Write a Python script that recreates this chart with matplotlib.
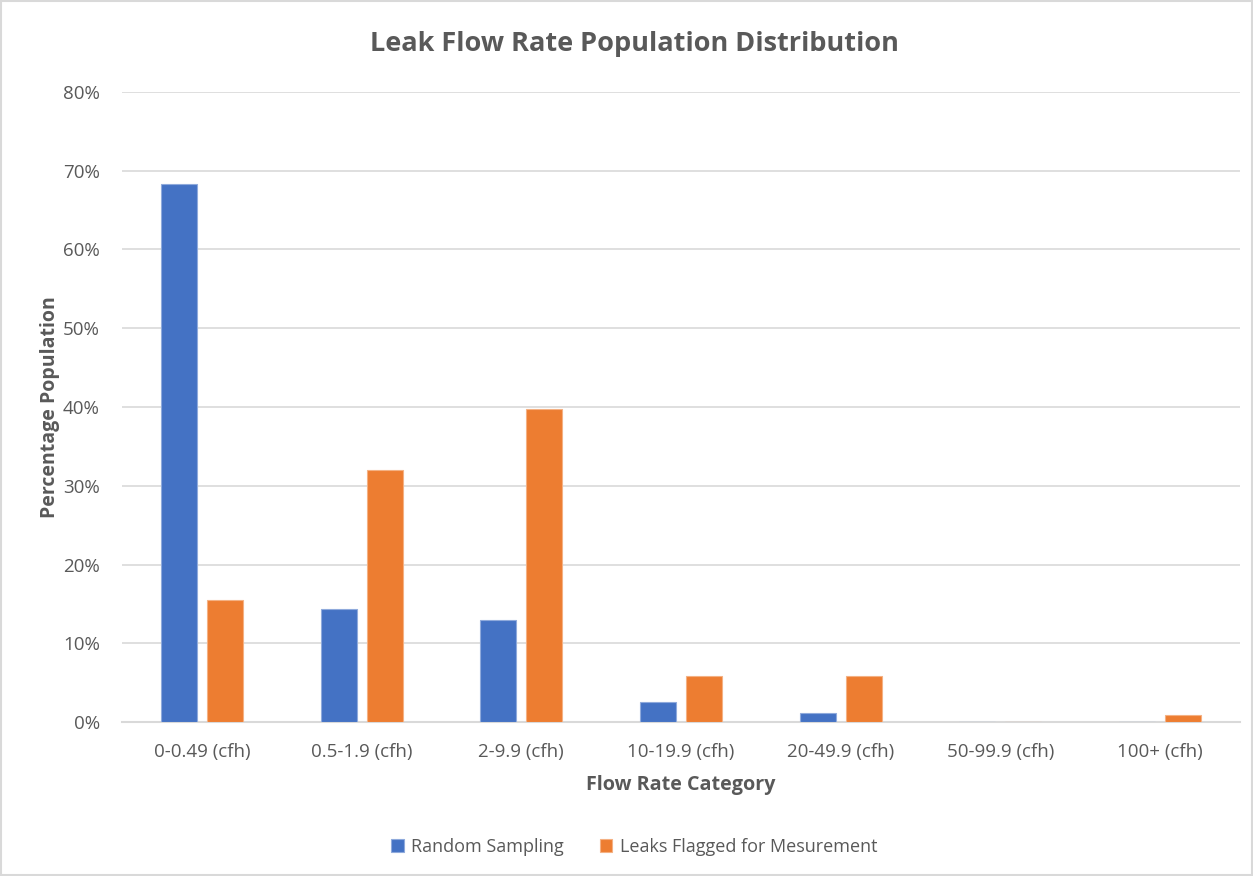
import matplotlib.pyplot as plt
import numpy as np
from matplotlib.patches import Rectangle
from matplotlib.ticker import FuncFormatter

plt.rcParams['font.family'] = ['Open Sans', 'DejaVu Sans']

# categories and values (fractions)
categories = ['0-0.49 (cfh)', '0.5-1.9 (cfh)', '2-9.9 (cfh)', '10-19.9 (cfh)',
              '20-49.9 (cfh)', '50-99.9 (cfh)', '100+ (cfh)']
random_sampling = [0.683, 0.144, 0.130, 0.025, 0.012, 0.0, 0.0]
leaks_flagged = [0.155, 0.320, 0.397, 0.058, 0.058, 0.0, 0.009]

blue = '#4472C4'
orange = '#ED7D31'
grey_text = '#595959'
grid_col = '#d9d9d9'

fig = plt.figure(figsize=(12.53, 8.76), dpi=100)
ax = fig.add_axes([122 / 1253, 1 - 722 / 876, (1240 - 122) / 1253, (722 - 92) / 876])

x = np.arange(len(categories))
w = 0.225
off = 0.144
ax.bar(x - off, random_sampling, w, color=blue, edgecolor='#8faadc', linewidth=0.8,
       label='Random Sampling', zorder=3)
ax.bar(x + off, leaks_flagged, w, color=orange, edgecolor='#f4b183', linewidth=0.8,
       label='Leaks Flagged for Mesurement', zorder=3)

ax.set_xlim(-0.5, len(categories) - 0.5)
ax.set_ylim(0, 0.8)
ax.set_yticks(np.arange(0, 0.81, 0.1))
ax.yaxis.set_major_formatter(FuncFormatter(lambda v, p: f'{v * 100:.0f}%'))
ax.set_xticks(x)
ax.set_xticklabels(categories)

ax.grid(axis='y', color=grid_col, linewidth=1.2, zorder=0)
for s in ['top', 'right', 'left']:
    ax.spines[s].set_visible(False)
ax.spines['bottom'].set_color(grid_col)
ax.spines['bottom'].set_linewidth(1.5)
ax.tick_params(axis='both', length=0, colors=grey_text, labelsize=13.5)
ax.tick_params(axis='y', pad=16)
ax.tick_params(axis='x', pad=15)

ax.set_xlabel('Flow Rate Category', fontsize=14.2, fontweight='bold', color=grey_text, labelpad=10)
ax.set_ylabel('Percentage Population', fontsize=14, fontweight='bold', color=grey_text, labelpad=2)

fig.text(0.506, 1 - 44 / 876, 'Leak Flow Rate Population Distribution', ha='center', va='center',
         fontsize=19.5, fontweight='bold', color=grey_text)

ax.legend(loc='center', bbox_to_anchor=(0.506, 1 - 847 / 876), bbox_transform=fig.transFigure,
          ncol=2, frameon=False, fontsize=13, labelcolor=grey_text,
          handlelength=0.7, handleheight=0.7, columnspacing=2.0, handletextpad=0.4)

fig.patches.append(Rectangle((0.001, 0.001), 0.998, 0.998, transform=fig.transFigure,
                             fill=False, edgecolor=grid_col, linewidth=1.5))

fig.savefig('out.png', dpi=100)
